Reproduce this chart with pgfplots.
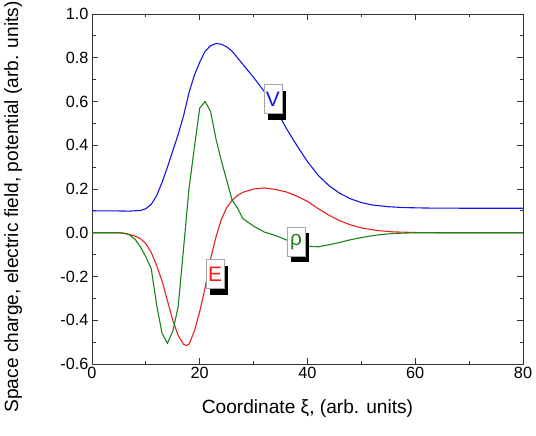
\documentclass[border=0pt]{standalone}
\usepackage{pgfplots}
\pgfplotsset{compat=1.18}
\usepackage{fontspec}
\setmainfont{Liberation Sans}
\usetikzlibrary{calc,shadows}
\definecolor{cV}{RGB}{20,20,235}
\definecolor{cE}{RGB}{235,30,30}
\definecolor{cR}{RGB}{25,130,25}
\begin{document}
\begin{tikzpicture}
\begin{axis}[
  scale only axis, width=431bp, height=350bp,
  xmin=0, xmax=80, ymin=-0.6, ymax=1.0,
  xtick={0,20,...,80}, minor xtick={10,30,50,70},
  ytick={-0.6,-0.4,...,1.0}, minor ytick={-0.5,-0.3,-0.1,0.1,0.3,0.5,0.7,0.9},
  tick align=inside, ticks=both,
  xtick pos=both, ytick pos=both,
  major tick length=6bp, minor tick length=3.5bp,
  every tick/.style={black!80, line width=0.9pt},
  axis line style={black!80, line width=0.9pt},
  tick label style={font=\fontsize{16.3}{19}\selectfont},
  /pgf/number format/assume math mode=true,
  yticklabel style={/pgf/number format/.cd, fixed, fixed zerofill, precision=1},
  xticklabel style={/pgf/number format/.cd, fixed, precision=0},
  every axis x label/.style={at={(axis description cs:0.5,0)}, yshift=-45bp, anchor=center},
  every axis y label/.style={at={(axis description cs:-0.183,0.449)}, rotate=90, anchor=center},
  label style={font=\fontsize{19.2}{22}\selectfont},
  xlabel={Coordinate ξ, (arb. units)},
  ylabel={Space charge, electric field, potential (arb. units)},
  clip=false,
]
\addplot[cV, line width=1.1pt] coordinates {
(0,0.1)(4,0.1)(7,0.099)(9,0.102)(10,0.11)(11,0.13)(12,0.17)(13,0.23)(14,0.30)(15,0.375)(16,0.45)(17,0.535)(18,0.64)(19,0.72)(20,0.78)(21,0.83)(22,0.855)(23,0.865)(24,0.862)(25,0.85)(26,0.83)(27,0.80)(28,0.77)(30,0.71)(32,0.645)(34,0.57)(36,0.48)(38,0.40)(40,0.325)(42,0.262)(44,0.215)(46,0.18)(48,0.155)(50,0.138)(52,0.127)(55,0.119)(58,0.115)(62,0.113)(70,0.112)(80,0.112)
};
\addplot[cE, line width=1.1pt] coordinates {
(0,0)(5,0)(6,-0.002)(7,-0.008)(8,-0.015)(9,-0.027)(10,-0.05)(11,-0.09)(12,-0.15)(13,-0.22)(14,-0.31)(15,-0.40)(16,-0.47)(17,-0.51)(17.5,-0.515)(18,-0.51)(19,-0.45)(20,-0.36)(21,-0.25)(22,-0.12)(23,-0.02)(24,0.06)(25,0.115)(26,0.148)(27,0.17)(28,0.185)(30,0.2)(32,0.205)(34,0.198)(36,0.187)(38,0.168)(40,0.143)(42,0.11)(44,0.08)(46,0.055)(48,0.036)(50,0.022)(53,0.01)(56,0.004)(60,0.001)(65,0)(80,0)
};
\addplot[cR, line width=1.1pt] coordinates {
(0,0)(5,0)(6,-0.003)(7,-0.01)(8,-0.03)(9,-0.065)(10,-0.11)(11,-0.165)(12,-0.33)(13,-0.46)(14,-0.505)(15,-0.45)(16,-0.337)(17,-0.07)(18,0.2)(19,0.39)(20,0.57)(21,0.60)(22,0.555)(23,0.43)(24,0.33)(25,0.24)(26,0.15)(27,0.113)(28,0.065)(30,0.03)(32,0.003)(34,-0.012)(36,-0.032)(38,-0.05)(40,-0.062)(42,-0.064)(44,-0.055)(46,-0.044)(48,-0.032)(50,-0.022)(53,-0.01)(56,-0.003)(60,0)(80,0)
};
\tikzset{lab/.style={draw=black!35, line width=0.5pt, fill=white, inner sep=0pt, minimum width=18bp, minimum height=29bp,
  font=\fontsize{21}{23}\selectfont,
  drop shadow={shadow xshift=4bp, shadow yshift=-6bp, fill=black, opacity=1}}}
\node[lab, text=cV] at (axis cs:33.56,0.611) {V};
\node[lab, text=cR] at (axis cs:37.9,-0.041) {ρ};
\node[lab, text=cE] at (axis cs:22.83,-0.189) {E};
\end{axis}
\pgfresetboundingbox
\useasboundingbox ($(current axis.south west)+(-92bp,-71bp)$) rectangle ($(current axis.north east)+(13bp,14bp)$);
\end{tikzpicture}
\end{document}
